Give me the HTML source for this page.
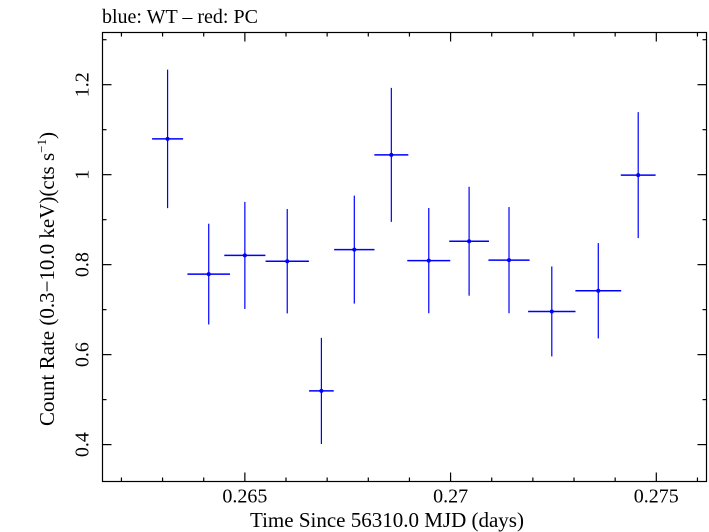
<!DOCTYPE html>
<html><head><meta charset="utf-8"><style>
body{margin:0;background:#fff}
svg{display:block;font-family:"Liberation Serif",serif}
</style></head><body>
<svg id="chart" width="709" height="532" viewBox="0 0 709 532" xmlns="http://www.w3.org/2000/svg">
<text x="102" y="23" font-size="20">blue: WT – red: PC</text>
<rect x="102.5" y="32.5" width="604" height="449" fill="none" stroke="#000" stroke-width="1.2"/>
<g id="ticks"></g>
<g id="marks"></g>
<text x="387" y="527" font-size="21" text-anchor="middle">Time Since 56310.0 MJD (days)</text>
<text transform="translate(54,279) rotate(-90)" font-size="21" text-anchor="middle">Count Rate (0.3−10.0 keV)(cts s<tspan font-size="13" dy="-8">−1</tspan><tspan dy="8">)</tspan></text>
</svg>
<script>
const times=[0.263122,0.264122,0.265,0.26603,0.26686,0.26766,0.26856,0.26947,0.27045,0.27142,0.27246,0.27359,0.27456];
const timeErr=[0.000377,0.000518,0.0005,0.000527,0.0003,0.00049,0.000413,0.000522,0.000483,0.0005,0.000576,0.000556,0.000423];
const rates=[1.0795,0.779,0.8205,0.8076,0.5193,0.8334,1.044,0.809,0.852,0.810,0.696,0.742,0.999];
const rateErr=[0.154,0.112,0.119,0.116,0.118,0.12,0.149,0.117,0.121,0.118,0.1,0.106,0.14];
const xTickVals=[0.265,0.27,0.275];
const xTickLabels=["0.265","0.27","0.275"];
const yTickVals=[0.4,0.6,0.8,1.0,1.2];
const yTickLabels=["0.4","0.6","0.8","1","1.2"];
const L=102.5,R=706.5,T=32.5,B=481.5;
const X0=0.26154,X1=0.27622,Y0=0.318,Y1=1.316;
const sx=v=>L+(v-X0)/(X1-X0)*(R-L);
const sy=v=>B-(v-Y0)/(Y1-Y0)*(B-T);
const NS="http://www.w3.org/2000/svg";
function mk(tag,attrs,parent){const e=document.createElementNS(NS,tag);for(const k in attrs)e.setAttribute(k,attrs[k]);parent.appendChild(e);return e;}
const tg=document.getElementById('ticks'),mg=document.getElementById('marks');
for(let i=0;i<=15;i++){const v=0.262+i*0.001;if(v<X0||v>X1)continue;const x=sx(v);const maj=xTickVals.some(t=>Math.abs(t-v)<1e-7);const len=maj?9:4;
 const a=mk('line',{x1:x,x2:x,y1:B,y2:B-len,stroke:'#000','stroke-width':1.2},tg);
 
 
 const b=mk('line',{x1:x,x2:x,y1:T,y2:T+len,stroke:'#000','stroke-width':1.2},tg);
 
 }
xTickVals.forEach((v,i)=>{const t=mk('text',{x:sx(v),y:B+21,'font-size':20,'text-anchor':'middle'},tg);t.textContent=xTickLabels[i];
 
 });
for(let i=0;i<=10;i++){const v=0.3+i*0.1;if(v<Y0||v>Y1)continue;const y=sy(v);const maj=yTickVals.some(t=>Math.abs(t-v)<1e-7);const len=maj?9:4;
 const a=mk('line',{x1:L,x2:L+len,y1:y,y2:y,stroke:'#000','stroke-width':1.2},tg);
 
 
 const b=mk('line',{x1:R,x2:R-len,y1:y,y2:y,stroke:'#000','stroke-width':1.2},tg);
 
 }
yTickVals.forEach((v,i)=>{const y=sy(v);const t=mk('text',{transform:`translate(${L-14},${y}) rotate(-90)`,'font-size':20,'text-anchor':'middle'},tg);t.textContent=yTickLabels[i];
 
 });
times.forEach((t,i)=>{const g=mk('g',{},mg);
 
 
 mk('line',{x1:sx(t-timeErr[i]),x2:sx(t+timeErr[i]),y1:sy(rates[i]),y2:sy(rates[i]),stroke:'#0000ff','stroke-width':1.5},g);
 mk('line',{x1:sx(t),x2:sx(t),y1:sy(rates[i]+rateErr[i]),y2:sy(rates[i]-rateErr[i]),stroke:'#0000ff','stroke-width':1.2},g);
 mk('circle',{cx:sx(t),cy:sy(rates[i]),r:2,fill:'#0000ff'},g);});
</script>
</body></html>
